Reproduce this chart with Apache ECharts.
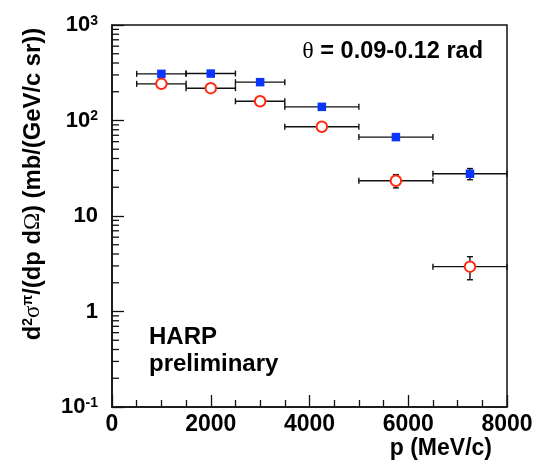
<!DOCTYPE html>
<html>
<head>
<meta charset="utf-8">
<script src="https://cdn.jsdelivr.net/npm/echarts@6/dist/echarts.min.js"></script>
<style>
  html, body { margin: 0; padding: 0; background: #fff; }
  #chart { width: 536px; height: 467px; }
</style>
</head>
<body>
<div id="chart"></div>
<script>
// Momentum bins (MeV/c): mean momentum and bin edges
const pMean = [1000, 2000, 3000, 4250, 5750, 7250];
const pLow  = [500, 1500, 2500, 3500, 5000, 6500];
const pHigh = [1500, 2500, 3500, 5000, 6500, 8000];

// Double-differential cross sections, mb/(GeV/c sr)
const piPlus     = [308, 310, 252, 139, 67, 27.7];
const piPlusErr  = [12, 12, 10, 6, 4, 3.7];
const piMinus    = [242, 218, 159, 86, 23.4, 2.95];
const piMinusErr = [10, 9, 7, 5, 3.7, 0.8];

// Log axis decade labels (base and exponent)
const yTickValues = [0.1, 1, 10, 100, 1000];
const yTickBase   = ['10', '1', '10', '10', '10'];
const yTickExp    = ['-1', '', '', '2', '3'];

// Minor ticks of the log axis: 2..9 within each decade
const yMinorTicks = [];
for (let d = -1; d < 3; d++) {
  for (let k = 2; k <= 9; k++) yMinorTicks.push(k * Math.pow(10, d));
}

const FONT = 'Liberation Sans, Arial, Helvetica, sans-serif';
const INK = '#111';

function errorBarData(values, errs) {
  return pMean.map((p, i) => [p, values[i], pLow[i], pHigh[i], values[i] - errs[i], values[i] + errs[i]]);
}

function renderErrorBar(params, api) {
  const y = api.value(1);
  const x = api.value(0);
  const left = api.coord([api.value(2), y]);
  const right = api.coord([api.value(3), y]);
  const lo = api.coord([x, api.value(4)]);
  const hi = api.coord([x, api.value(5)]);
  const cap = 3;
  const style = { stroke: INK, lineWidth: 1.4 };
  const seg = (x1, y1, x2, y2) => ({ type: 'line', shape: { x1, y1, x2, y2 }, style });
  return {
    type: 'group',
    children: [
      seg(left[0], left[1], right[0], right[1]),
      seg(left[0], left[1] - cap, left[0], left[1] + cap),
      seg(right[0], right[1] - cap, right[0], right[1] + cap),
      seg(lo[0], lo[1], hi[0], hi[1]),
      seg(lo[0] - cap, lo[1], lo[0] + cap, lo[1]),
      seg(hi[0] - cap, hi[1], hi[0] + cap, hi[1])
    ]
  };
}

const chart = echarts.init(document.getElementById('chart'), null, { renderer: 'canvas' });

chart.setOption({
  animation: false,
  backgroundColor: '#fff',
  grid: {
    left: 112, right: 29, top: 25, bottom: 60,
    show: true, borderColor: INK, borderWidth: 1.5, backgroundColor: 'transparent'
  },
  xAxis: {
    type: 'value', min: 0, max: 8000, interval: 2000,
    axisLine: { show: true, lineStyle: { color: INK, width: 1.5 } },
    axisTick: { show: true, inside: true, length: 12, lineStyle: { color: INK, width: 1.3 } },
    minorTick: { show: true, splitNumber: 4, length: 7, lineStyle: { color: INK, width: 1.3 } },
    splitLine: { show: false },
    axisLabel: {
      color: '#000', fontFamily: FONT, fontWeight: 'bold', fontSize: 23, margin: 6,
      formatter: v => String(v)
    }
  },
  yAxis: {
    type: 'log', logBase: 10, min: 0.1, max: 1000,
    axisLine: { show: true, lineStyle: { color: INK, width: 1.5 } },
    axisTick: { show: true, inside: true, length: 12, lineStyle: { color: INK, width: 1.3 } },
    splitLine: { show: false },
    axisLabel: {
      margin: 14,
      formatter: function (v) {
        const i = yTickValues.findIndex(t => Math.abs(Math.log10(t) - Math.log10(v)) < 1e-6);
        if (i < 0) return '';
        return '{b|' + yTickBase[i] + '}' + (yTickExp[i] ? '{s|' + yTickExp[i] + '}' : '');
      },
      rich: {
        b: { color: '#000', fontFamily: FONT, fontWeight: 'bold', fontSize: 22 },
        s: { color: '#000', fontFamily: FONT, fontWeight: 'bold', fontSize: 14, verticalAlign: 'top' }
      }
    }
  },
  graphic: [
    {
      type: 'text', x: 33, y: 184, rotation: Math.PI / 2,
      style: {
        text: '{b|d}{s|2}{g|σ}{s|π}{b|/(dp d}{g|Ω}{b|) (mb/(GeV/c sr))}',
        align: 'center', verticalAlign: 'middle',
        textAlign: 'center', textVerticalAlign: 'middle',
        rich: {
          b: { fill: '#000', fontFamily: FONT, fontWeight: 'bold', fontSize: 23.8 },
          g: { fill: '#000', fontFamily: 'Liberation Serif, DejaVu Serif, serif', fontSize: 23 },
          s: { fill: '#000', fontFamily: FONT, fontWeight: 'bold', fontSize: 14, verticalAlign: 'top' }
        }
      }
    },
    {
      type: 'text', x: 492, y: 449,
      style: {
        text: 'p (MeV/c)', fill: '#000', font: 'bold 23px ' + FONT,
        align: 'right', verticalAlign: 'middle', textAlign: 'right', textVerticalAlign: 'middle'
      }
    },
    {
      type: 'text', x: 483, y: 52,
      style: {
        text: '{t|θ}{b| = 0.09-0.12 rad}',
        align: 'right', verticalAlign: 'middle', textAlign: 'right', textVerticalAlign: 'middle',
        rich: {
          t: { fill: '#000', fontFamily: 'Liberation Serif, DejaVu Serif, serif', fontSize: 24 },
          b: { fill: '#000', fontFamily: FONT, fontWeight: 'bold', fontSize: 23.5 }
        }
      }
    },
    {
      type: 'text', x: 149, y: 337,
      style: {
        text: 'HARP', fill: '#000', font: 'bold 24px ' + FONT,
        align: 'left', verticalAlign: 'middle', textAlign: 'left', textVerticalAlign: 'middle'
      }
    },
    {
      type: 'text', x: 149, y: 364,
      style: {
        text: 'preliminary', fill: '#000', font: 'bold 24px ' + FONT,
        align: 'left', verticalAlign: 'middle', textAlign: 'left', textVerticalAlign: 'middle'
      }
    }
  ],
  series: [
    {
      type: 'custom', name: 'yMinor', silent: true, clip: false, z: 3,
      data: yMinorTicks.map(v => [0, v]),
      renderItem: function (params, api) {
        const pt = api.coord([0, api.value(1)]);
        return { type: 'line', shape: { x1: pt[0], y1: pt[1], x2: pt[0] + 7, y2: pt[1] },
                 style: { stroke: INK, lineWidth: 1.3 } };
      }
    },
    {
      type: 'custom', name: 'π+ errors', silent: true, clip: false, z: 4,
      data: errorBarData(piPlus, piPlusErr), renderItem: renderErrorBar
    },
    {
      type: 'custom', name: 'π- errors', silent: true, clip: false, z: 4,
      data: errorBarData(piMinus, piMinusErr), renderItem: renderErrorBar
    },
    {
      type: 'scatter', name: 'π+', z: 5,
      symbol: 'rect', symbolSize: 8.5,
      itemStyle: { color: '#0a35ff', opacity: 1 },
      data: pMean.map((p, i) => [p, piPlus[i]])
    },
    {
      type: 'scatter', name: 'π-', z: 5,
      symbol: 'circle', symbolSize: 10.5,
      itemStyle: { color: '#fff', borderColor: '#ff2a10', borderWidth: 2, opacity: 1 },
      data: pMean.map((p, i) => [p, piMinus[i]])
    }
  ]
});
</script>
</body>
</html>
